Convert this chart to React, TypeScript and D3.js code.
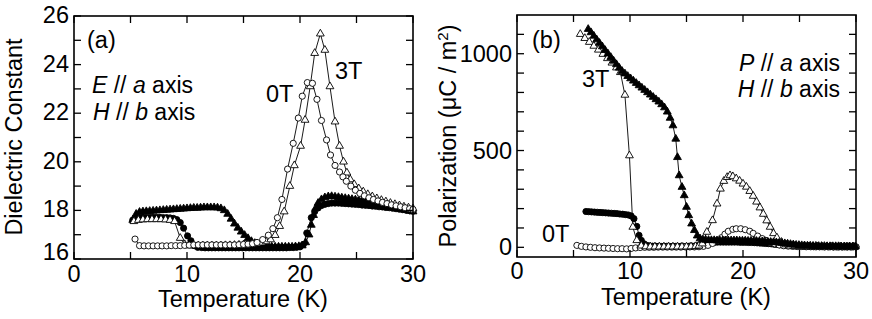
import React from 'react';
import * as d3 from 'd3';

type Pt = [number, number];

// ---------- tick values ----------
const tempTicks = [0, 10, 20, 30];
const tempMinor = [5, 15, 25];
const epsTicks = [16, 18, 20, 22, 24, 26];
const epsMinor = [17, 19, 21, 23, 25];
const polTicks = [0, 500, 1000];
const polMinor = [100, 200, 300, 400, 600, 700, 800, 900, 1100];

// ---------- (a) dielectric constant ----------
const epsOpen0T: Pt[] = [[5.4,16.82],[5.8,16.55],[6.2,16.54],[6.6,16.54],[7.0,16.54],[7.4,16.54],[7.8,16.54],[8.2,16.54],[8.6,16.55],[9.0,16.55],[9.4,16.55],[9.8,16.56],[10.2,16.57],[10.6,16.58],[11.0,16.58],[11.4,16.58],[11.8,16.58],[12.2,16.58],[12.6,16.58],[13.0,16.58],[13.4,16.58],[13.8,16.58],[14.2,16.58],[14.6,16.59],[15.0,16.6],[15.4,16.61],[15.8,16.63],[16.2,16.68],[16.7,16.8],[17.2,16.98],[17.6,17.25],[18.0,17.7],[18.4,18.45],[18.9,19.7],[19.4,20.76],[19.85,21.8],[20.2,22.7],[20.65,23.26],[21.1,23.23],[21.5,22.57],[21.9,21.7],[22.35,20.9],[22.7,20.28],[23.1,19.85],[23.5,19.58],[23.8,19.38],[24.1,19.2],[24.5,19.0],[24.9,18.83],[25.3,18.7],[25.7,18.6],[26.1,18.52],[26.5,18.45],[26.9,18.39],[27.3,18.33],[27.7,18.28],[28.1,18.23],[28.5,18.19],[28.9,18.15],[29.3,18.11],[29.7,18.07],[30.0,18.04]];

const epsOpen3T: Pt[] = [[5.3,17.55],[5.7,17.6],[6.1,17.62],[6.5,17.63],[6.9,17.63],[7.3,17.63],[7.7,17.63],[8.1,17.62],[8.5,17.6],[8.9,17.55],[9.4,16.86],[9.8,16.6],[10.2,16.55],[10.6,16.55],[11.0,16.55],[11.4,16.55],[11.8,16.55],[12.2,16.55],[12.6,16.55],[13.0,16.55],[13.4,16.56],[13.8,16.56],[14.2,16.57],[14.6,16.58],[15.0,16.59],[15.4,16.6],[15.8,16.61],[16.2,16.63],[16.6,16.67],[17.0,16.72],[17.4,16.8],[17.8,16.98],[18.2,17.35],[18.6,17.95],[19.1,19.0],[19.5,19.85],[20.05,20.65],[20.45,21.72],[20.9,23.1],[21.3,24.47],[21.8,25.27],[22.2,24.6],[22.65,23.1],[23.1,21.65],[23.5,20.65],[23.85,20.0],[24.15,19.55],[24.45,19.27],[24.8,19.07],[25.2,18.9],[25.6,18.77],[26.0,18.66],[26.4,18.57],[26.8,18.49],[27.2,18.42],[27.6,18.36],[28.0,18.3],[28.4,18.25],[28.8,18.2],[29.2,18.15],[29.6,18.11],[30.0,18.07]];

const epsFilled0T: Pt[] = [[5.2,17.6],[5.5,17.68],[5.8,17.7],[6.1,17.71],[6.4,17.71],[6.7,17.71],[7.0,17.71],[7.3,17.71],[7.6,17.71],[7.9,17.7],[8.2,17.7],[8.5,17.69],[8.8,17.67],[9.1,17.62],[9.4,17.5],[9.7,17.27],[10.05,16.95],[10.35,16.75],[10.65,16.55],[10.95,16.48],[11.3,16.47],[11.6,16.46],[11.9,16.46],[12.2,16.46],[12.5,16.46],[12.8,16.46],[13.1,16.46],[13.4,16.46],[13.7,16.46],[14.0,16.46],[14.3,16.46],[14.6,16.46],[14.9,16.46],[15.2,16.46],[15.5,16.46],[15.8,16.46],[16.1,16.46],[16.4,16.46],[16.7,16.46],[17.0,16.46],[17.3,16.46],[17.6,16.46],[17.9,16.46],[18.2,16.46],[18.5,16.46],[18.8,16.46],[19.1,16.47],[19.4,16.47],[19.7,16.48],[20.0,16.5],[20.3,16.6],[20.6,17.07],[21.0,17.7],[21.3,17.95],[21.6,18.1],[21.9,18.2],[22.2,18.25],[22.5,18.28],[22.8,18.3],[23.1,18.3],[23.4,18.3],[23.7,18.29],[24.0,18.28],[24.3,18.27],[24.6,18.26],[24.9,18.25],[25.2,18.24],[25.5,18.22],[25.8,18.21],[26.1,18.2],[26.4,18.18],[26.7,18.17],[27.0,18.15],[27.3,18.14],[27.6,18.12],[27.9,18.11],[28.2,18.09],[28.5,18.07],[28.8,18.05],[29.1,18.03],[29.4,18.01],[29.7,17.99],[30.0,17.97]];

const epsFilled3T: Pt[] = [[5.2,17.6],[5.5,17.85],[5.8,17.93],[6.1,17.95],[6.4,17.96],[6.7,17.97],[7.0,17.98],[7.3,17.99],[7.6,18.0],[7.9,18.01],[8.2,18.02],[8.5,18.03],[8.8,18.04],[9.1,18.05],[9.4,18.06],[9.7,18.07],[10.0,18.08],[10.3,18.09],[10.6,18.1],[10.9,18.1],[11.2,18.11],[11.5,18.12],[11.8,18.12],[12.1,18.12],[12.4,18.12],[12.7,18.11],[13.0,18.08],[13.3,18.0],[13.6,17.85],[13.9,17.65],[14.2,17.45],[14.5,17.28],[14.8,17.12],[15.1,16.98],[15.4,16.85],[15.7,16.73],[16.0,16.65],[16.3,16.58],[16.6,16.54],[16.9,16.52],[17.2,16.5],[17.5,16.5],[17.8,16.5],[18.1,16.5],[18.4,16.5],[18.7,16.5],[19.0,16.5],[19.3,16.5],[19.6,16.51],[19.9,16.52],[20.2,16.55],[20.5,16.68],[20.8,17.0],[21.0,17.4],[21.2,17.8],[21.4,18.1],[21.6,18.3],[21.9,18.45],[22.2,18.53],[22.5,18.57],[22.8,18.58],[23.1,18.56],[23.4,18.54],[23.7,18.52],[24.0,18.5],[24.3,18.48],[24.6,18.46],[24.9,18.44],[25.2,18.42],[25.5,18.4],[25.8,18.37],[26.1,18.35],[26.4,18.32],[26.7,18.3],[27.0,18.27],[27.3,18.24],[27.6,18.21],[27.9,18.18],[28.2,18.15],[28.5,18.12],[28.8,18.08],[29.1,18.05],[29.4,18.02],[29.7,17.98],[30.0,17.95]];

// ---------- (b) polarization ----------
const polOpen0T: Pt[] = [[5.3,10],[5.7,5],[6.1,2],[6.5,0],[6.9,-2],[7.3,-3],[7.7,-4],[8.1,-5],[8.5,-6],[8.9,-7],[9.3,-7],[9.7,-8],[10.1,-6],[10.5,-3],[10.9,-1],[11.3,0],[11.7,0],[12.1,0],[12.5,1],[12.9,1],[13.3,1],[13.7,1],[14.1,1],[14.5,1],[14.9,2],[15.3,2],[15.7,2],[16.1,3],[16.5,5],[16.9,10],[17.3,20],[17.7,35],[18.1,50],[18.4,68],[18.7,83],[19.1,93],[19.4,96],[19.8,96],[20.2,91],[20.6,83],[20.9,72],[21.3,58],[21.7,45],[22.0,36],[22.4,26],[22.8,18],[23.2,12],[23.6,8],[24.0,6],[24.4,5],[24.8,4],[25.2,4],[25.6,3],[26.0,3],[26.4,3],[26.8,3],[27.2,2],[27.6,2],[28.0,2],[28.4,2],[28.8,2],[29.2,2],[29.6,2],[30.0,2]];

const polOpen3T: Pt[] = [[5.6,1101],[6.0,1080],[6.4,1060],[6.8,1040],[7.2,1020],[7.6,998],[8.0,976],[8.4,953],[8.8,928],[9.15,904],[9.55,787],[9.95,474],[10.25,105],[10.6,36],[11.0,8],[11.4,4],[11.8,3],[12.2,3],[12.6,3],[13.0,3],[13.4,3],[13.8,3],[14.2,3],[14.6,3],[15.0,3],[15.4,4],[15.8,5],[16.1,8],[16.4,19],[16.8,79],[17.3,139],[17.7,225],[18.0,302],[18.3,342],[18.6,362],[18.85,371],[19.1,366],[19.4,355],[19.7,343],[20.0,328],[20.3,312],[20.6,290],[20.9,265],[21.2,235],[21.5,205],[21.8,172],[22.1,138],[22.4,105],[22.7,72],[23.0,50],[23.4,27],[23.8,14],[24.2,8],[24.6,6],[25.0,5],[25.4,5],[25.8,4],[26.2,4],[26.6,4],[27.0,3],[27.4,3],[27.8,3],[28.2,3],[28.6,3],[29.0,3],[29.4,3],[29.8,3]];

const polFilled0T: Pt[] = [[6.1,185],[6.35,184],[6.6,183],[6.85,182],[7.1,181],[7.35,180],[7.6,179],[7.85,178],[8.1,177],[8.35,176],[8.6,175],[8.85,174],[9.1,172],[9.35,171],[9.6,169],[9.85,167],[10.1,162],[10.35,148],[10.6,108],[10.8,62],[11.0,36],[11.25,18],[11.5,10],[11.75,7],[12.0,6],[12.25,6],[12.5,5],[12.75,5],[13.0,5],[13.25,5],[13.5,5],[13.75,5],[14.0,5],[14.25,5],[14.5,5],[14.75,5],[15.0,5],[15.25,6],[15.5,6],[15.75,7],[16.0,9],[16.25,12],[16.5,16],[16.75,20],[17.0,23],[17.25,25],[17.5,26],[17.75,27],[18.0,27],[18.25,27],[18.5,27],[18.75,27],[19.0,27],[19.25,27],[19.5,27],[19.75,26],[20.0,26],[20.25,26],[20.5,25],[20.75,25],[21.0,24],[21.25,23],[21.5,22],[21.75,21],[22.0,20],[22.25,19],[22.5,18],[22.75,16],[23.0,15],[23.25,13],[23.5,12],[23.75,10],[24.0,9],[24.25,8],[24.5,7],[24.75,6],[25.0,5],[25.25,5],[25.5,4],[25.75,4],[26.0,4],[26.25,3],[26.5,3],[26.75,3],[27.0,3],[27.25,3],[27.5,3],[27.75,3],[28.0,2],[28.25,2],[28.5,2],[28.75,2],[29.0,2],[29.25,2],[29.5,2],[29.75,2],[30.0,2]];

const polFilled3T: Pt[] = [[6.3,1127],[6.55,1110],[6.8,1092],[7.05,1073],[7.3,1055],[7.55,1037],[7.8,1018],[8.05,1000],[8.3,982],[8.55,963],[8.8,945],[9.05,927],[9.3,910],[9.55,897],[9.8,884],[10.05,872],[10.3,860],[10.55,848],[10.8,836],[11.05,824],[11.3,812],[11.55,800],[11.8,788],[12.05,776],[12.3,764],[12.55,752],[12.8,738],[13.05,722],[13.3,700],[13.55,668],[13.8,629],[14.05,560],[14.2,465],[14.35,371],[14.6,311],[14.8,268],[15.0,208],[15.2,165],[15.45,122],[15.7,88],[15.95,60],[16.2,45],[16.45,40],[16.7,38],[16.95,37],[17.2,36],[17.45,36],[17.7,35],[17.95,35],[18.2,35],[18.45,35],[18.7,35],[18.95,35],[19.2,35],[19.45,35],[19.7,34],[19.95,34],[20.2,34],[20.45,33],[20.7,33],[20.95,32],[21.2,32],[21.45,31],[21.7,30],[21.95,29],[22.2,28],[22.45,27],[22.7,26],[22.95,25],[23.2,23],[23.45,22],[23.7,20],[23.95,18],[24.2,16],[24.45,14],[24.7,12],[24.95,11],[25.2,10],[25.45,9],[25.7,8],[25.95,8],[26.2,7],[26.45,7],[26.7,6],[26.95,6],[27.2,6],[27.45,5],[27.7,5],[27.95,5],[28.2,5],[28.45,5],[28.7,4],[28.95,4],[29.2,4],[29.45,4],[29.7,4],[29.95,4]];

const FONT = '"Liberation Sans", Arial, Helvetica, sans-serif';
const FS = 23.5;
const FS_NOTE = 23;

function triPath(s: number) {
  const h = s * 0.866;
  return `M0,${(-h * 2) / 3}L${s / 2},${h / 3}L${-s / 2},${h / 3}Z`;
}

type Scale = d3.ScaleLinear<number, number>;

function Series({ data, x, y, shape, filled }: { data: Pt[]; x: Scale; y: Scale; shape: 'circle' | 'tri'; filled: boolean }) {
  const line = d3.line<Pt>().x((d) => x(d[0])).y((d) => y(d[1]));
  const fill = filled ? '#000' : '#fff';
  return (
    <g>
      <path d={line(data) || ''} fill="none" stroke="#000" strokeWidth={0.9} />
      {data.map((d, i) =>
        shape === 'circle' ? (
          <circle key={i} cx={x(d[0])} cy={y(d[1])} r={3.1} fill={fill} stroke="#000" strokeWidth={0.9} />
        ) : (
          <path key={i} transform={`translate(${x(d[0])},${y(d[1])})`} d={triPath(7.8)} fill={fill} stroke="#000" strokeWidth={0.9} />
        )
      )}
    </g>
  );
}

function Frame({ x, y, yMajor, yMinor, xLabelY, yLabelX, yLabelShift }: { x: Scale; y: Scale; yMajor: number[]; yMinor: number[]; xLabelY: number; yLabelX: number; yLabelShift: (v: number) => number }) {
  const [x0, x1] = x.range();
  const [yb, yt] = y.range();
  const tl = 7;
  const xt = [...tempTicks, ...tempMinor];
  const yt2 = [...yMajor, ...yMinor];
  return (
    <g>
      <rect x={x0} y={yt} width={x1 - x0} height={yb - yt} fill="none" stroke="#000" strokeWidth={1.6} />
      {xt.map((t) => (
        <g key={'x' + t}>
          <line x1={x(t)} x2={x(t)} y1={yb} y2={yb - tl} stroke="#000" strokeWidth={1.3} />
          <line x1={x(t)} x2={x(t)} y1={yt} y2={yt + tl} stroke="#000" strokeWidth={1.3} />
        </g>
      ))}
      {yt2.map((t) => (
        <g key={'y' + t}>
          <line x1={x0} x2={x0 + tl} y1={y(t)} y2={y(t)} stroke="#000" strokeWidth={1.3} />
          <line x1={x1} x2={x1 - tl} y1={y(t)} y2={y(t)} stroke="#000" strokeWidth={1.3} />
        </g>
      ))}
      {tempTicks.map((t) => (
        <text key={'xl' + t} x={x(t)} y={xLabelY} textAnchor="middle" fontSize={FS} fontFamily={FONT}>{t}</text>
      ))}
      {yMajor.map((t) => (
        <text key={'yl' + t} x={yLabelX} y={y(t) + yLabelShift(t)} textAnchor="end" dominantBaseline="central" fontSize={FS} fontFamily={FONT}>{t}</text>
      ))}
    </g>
  );
}

export default function App() {
  const xa = d3.scaleLinear().domain([0, 30]).range([74, 413]);
  const ya = d3.scaleLinear().domain([16, 26]).range([259, 16]);
  const xb = d3.scaleLinear().domain([0, 30]).range([517, 856]);
  const yb = d3.scaleLinear().domain([-50, 1200]).range([257, 15]);

  return (
    <svg width={872} height={319} style={{ position: 'absolute', left: 0, top: 0, background: '#fff' }} fontFamily={FONT}>
      {/* panel (a) */}
      <Series data={epsFilled0T} x={xa} y={ya} shape="circle" filled />
      <Series data={epsFilled3T} x={xa} y={ya} shape="tri" filled />
      <Series data={epsOpen3T} x={xa} y={ya} shape="tri" filled={false} />
      <Series data={epsOpen0T} x={xa} y={ya} shape="circle" filled={false} />
      <Frame x={xa} y={ya} yMajor={epsTicks} yMinor={epsMinor} xLabelY={282} yLabelX={69} yLabelShift={(v) => (v === 16 ? -7 : -1)} />
      <text x={243} y={307} textAnchor="middle" fontSize={FS}>Temperature (K)</text>
      <text transform="translate(22,137) rotate(-90)" textAnchor="middle" fontSize={FS}>Dielectric Constant</text>
      <text x={87} y={48} fontSize={FS}>(a)</text>
      <text x={92} y={93} fontSize={FS_NOTE}><tspan fontStyle="italic">E</tspan> // <tspan fontStyle="italic">a</tspan> axis</text>
      <text x={93} y={119.5} fontSize={FS_NOTE}><tspan fontStyle="italic">H</tspan> // <tspan fontStyle="italic">b</tspan> axis</text>
      <text x={266} y={102} fontSize={FS}>0T</text>
      <text x={335} y={79} fontSize={FS}>3T</text>

      {/* panel (b) */}
      <Series data={polFilled0T} x={xb} y={yb} shape="circle" filled />
      <Series data={polOpen0T} x={xb} y={yb} shape="circle" filled={false} />
      <Series data={polOpen3T} x={xb} y={yb} shape="tri" filled={false} />
      <Series data={polFilled3T} x={xb} y={yb} shape="tri" filled />
      <Frame x={xb} y={yb} yMajor={polTicks} yMinor={polMinor} xLabelY={279} yLabelX={512} yLabelShift={() => 0} />
      <text x={686} y={305} textAnchor="middle" fontSize={FS}>Temperature (K)</text>
      <text transform="translate(456,136) rotate(-90)" textAnchor="middle" fontSize={FS}>
        Polarization (μC / m<tspan dy={-8} fontSize={15}>2</tspan><tspan dy={8}>)</tspan>
      </text>
      <text x={532} y={48} fontSize={FS}>(b)</text>
      <text x={840} y={70.5} fontSize={FS_NOTE} textAnchor="end"><tspan fontStyle="italic">P</tspan> // <tspan fontStyle="italic">a</tspan> axis</text>
      <text x={840} y={97} fontSize={FS_NOTE} textAnchor="end"><tspan fontStyle="italic">H</tspan> // <tspan fontStyle="italic">b</tspan> axis</text>
      <text x={582} y={87} fontSize={FS}>3T</text>
      <text x={542} y={242} fontSize={FS}>0T</text>
    </svg>
  );
}
